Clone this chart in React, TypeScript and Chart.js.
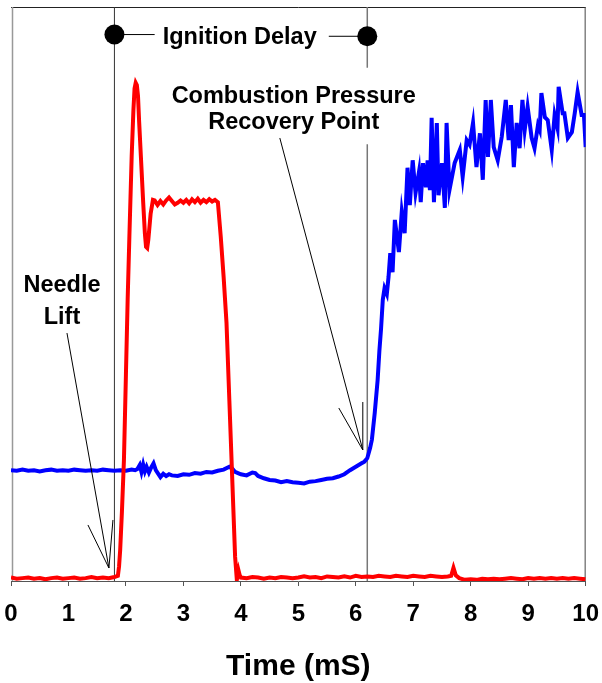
import React, { useEffect, useRef } from "react";
import { Chart, registerables } from "chart.js";

Chart.register(...registerables);

// ---- data (time in ms, signal level in % of plot height) ----
const timeTicks = [0, 1, 2, 3, 4, 5, 6, 7, 8, 9, 10];

const needleLift: [number, number][] = [
  [0, 0.6], [0.1, 0.4], [0.2, 0.5], [0.3, 0.6], [0.4, 0.4], [0.5, 0.5], [0.6, 0.3], [0.7, 0.5], [0.8, 0.6], [0.9, 0.4],
  [1.0, 0.5], [1.1, 0.6], [1.2, 0.4], [1.3, 0.5], [1.4, 0.7], [1.5, 0.5], [1.6, 0.6], [1.7, 0.5], [1.8, 0.7],
  [1.86, 0.9], [1.88, 2.5], [1.9, 5.4], [1.93, 12], [1.965, 21], [2.0, 36], [2.03, 49], [2.06, 60], [2.1, 74], [2.13, 82],
  [2.15, 85.8], [2.17, 86.8], [2.19, 86.4], [2.21, 84.5], [2.23, 80], [2.26, 74], [2.3, 66], [2.33, 60.5], [2.35, 58.2],
  [2.37, 58.0], [2.39, 59.5], [2.43, 64], [2.47, 66.4],
  [2.5, 66.3], [2.55, 65.5], [2.6, 66.2], [2.65, 65.6], [2.7, 66.3], [2.75, 66.8], [2.8, 66.2], [2.85, 65.6], [2.9, 65.9],
  [2.95, 66.3], [3.0, 65.9], [3.05, 66.4], [3.1, 65.8], [3.15, 66.5], [3.2, 66.0], [3.25, 66.6], [3.3, 65.9], [3.35, 66.4],
  [3.4, 66.0], [3.45, 66.5], [3.5, 66.1], [3.55, 66.4], [3.6, 66.0],
  [3.65, 60], [3.7, 53], [3.75, 45], [3.8, 31.4], [3.85, 17.8], [3.9, 4.2], [3.93, 0.2], [3.96, 1.8], [3.98, 1.0], [4.0, 0.6],
  [4.1, 0.5], [4.2, 0.7], [4.3, 0.6], [4.4, 0.4], [4.5, 0.6], [4.6, 0.5], [4.7, 0.7], [4.8, 0.6], [4.9, 0.5], [5.0, 0.6],
  [5.1, 0.8], [5.2, 0.6], [5.3, 0.7], [5.4, 0.5], [5.5, 0.8], [5.6, 0.7], [5.7, 0.6], [5.8, 0.8], [5.9, 0.6], [6.0, 0.9],
  [6.1, 0.7], [6.2, 0.8], [6.3, 0.7], [6.4, 0.9], [6.5, 0.8], [6.6, 0.7], [6.7, 0.9], [6.8, 0.8], [6.9, 0.7], [7.0, 0.9],
  [7.1, 0.8], [7.2, 0.7], [7.3, 0.9], [7.4, 0.8], [7.5, 0.7], [7.6, 0.8],
  [7.66, 0.9], [7.7, 2.3], [7.74, 1.0],
  [7.8, 0.5], [7.9, 0.2], [8.0, 0.3], [8.1, 0.2], [8.2, 0.4], [8.3, 0.3], [8.4, 0.4], [8.5, 0.3], [8.6, 0.4], [8.7, 0.5],
  [8.8, 0.4], [8.9, 0.3], [9.0, 0.5], [9.1, 0.4], [9.2, 0.5], [9.3, 0.4], [9.4, 0.5], [9.5, 0.4], [9.6, 0.5], [9.7, 0.4],
  [9.8, 0.5], [9.9, 0.4], [10.0, 0.3],
];

const cylinderPressure: [number, number][] = [
  [0, 19.3], [0.1, 19.2], [0.2, 19.4], [0.3, 19.2], [0.4, 19.3], [0.5, 19.1], [0.6, 19.3], [0.7, 19.4], [0.8, 19.2], [0.9, 19.3],
  [1.0, 19.2], [1.1, 19.4], [1.2, 19.3], [1.3, 19.2], [1.4, 19.3], [1.5, 19.2], [1.6, 19.4], [1.7, 19.3], [1.8, 19.2], [1.9, 19.3],
  [2.0, 19.2], [2.1, 19.4], [2.16, 19.3], [2.2, 19.5], [2.24, 20.2], [2.27, 19.0], [2.3, 20.3], [2.33, 19.1], [2.36, 19.9],
  [2.4, 18.9], [2.44, 19.8], [2.48, 20.5], [2.52, 19.3], [2.56, 18.7], [2.6, 18.1], [2.65, 18.7], [2.7, 18.3], [2.75, 18.6],
  [2.8, 18.4], [2.9, 18.3], [3.0, 18.6], [3.1, 18.5], [3.2, 18.8], [3.3, 18.7], [3.4, 19.0], [3.5, 18.9], [3.6, 19.2],
  [3.7, 19.4], [3.8, 19.9], [3.85, 19.6], [3.9, 19.0], [3.95, 18.8], [4.0, 18.6], [4.1, 18.4], [4.2, 18.9], [4.25, 18.8],
  [4.3, 18.3], [4.4, 17.9], [4.5, 17.6], [4.6, 17.5], [4.7, 17.2], [4.8, 17.4], [4.9, 17.2], [5.0, 17.1], [5.1, 17.0],
  [5.2, 17.3], [5.3, 17.4], [5.4, 17.6], [5.5, 17.8], [5.6, 17.9], [5.7, 18.2], [5.8, 18.6], [5.9, 19.3], [6.0, 19.9],
  [6.1, 20.5], [6.15, 20.8], [6.2, 21.4], [6.25, 23.2], [6.28, 24.6], [6.33, 29.3], [6.38, 35], [6.41, 40], [6.44, 44],
  [6.47, 49], [6.5, 51], [6.54, 50], [6.57, 53], [6.6, 57.1], [6.64, 53.8], [6.68, 62.9], [6.75, 57.3], [6.8, 64.3],
  [6.85, 60.6], [6.9, 72], [6.94, 65.5], [6.99, 73.3], [7.04, 67.6], [7.1, 71.3], [7.13, 66], [7.17, 72.8], [7.22, 68.6],
  [7.25, 73.3], [7.29, 68.1], [7.32, 80.7], [7.36, 66], [7.41, 79.8], [7.44, 67.2], [7.5, 72.8], [7.55, 65], [7.58, 79.8],
  [7.63, 68.1], [7.72, 72.8], [7.81, 75.1], [7.86, 70.4], [7.93, 76.8], [7.98, 76], [8.04, 79.8], [8.1, 72.1], [8.16, 78],
  [8.21, 69.9], [8.26, 83.8], [8.3, 73.9], [8.35, 83.8], [8.4, 75.6], [8.47, 73.3], [8.54, 77.4], [8.61, 83.8], [8.66, 76.8],
  [8.7, 82.9], [8.75, 72.1], [8.8, 79.8], [8.85, 75.4], [8.9, 83.8], [8.94, 78.6], [8.99, 82.6], [9.06, 77.2], [9.11, 75.4],
  [9.17, 79.4], [9.2, 78.6], [9.23, 85], [9.29, 80.8], [9.34, 80.3], [9.41, 75.1], [9.46, 81.2], [9.51, 78.9], [9.53, 86.1],
  [9.6, 81.5], [9.63, 81.5], [9.69, 77.2], [9.76, 78.2], [9.81, 81.5], [9.86, 85.2], [9.93, 81.2], [9.97, 81.2], [10.0, 75.6],
];

// event times and marker levels
const ignitionStart = 1.8;
const recoveryPoint = 6.2;
const markerLevels = [95.2, 94.9];
const delayLabelEnds = [2.5, 5.53];
const recoveryLineGap = [76.1, 89.4];

// arrows: [tail, tip, barb1, barb2]
const needleArrow: [number, number][] = [[0.974, 43.2], [1.704, 2.26], [1.339, 9.76], [1.774, 10.63]];
const recoveryArrow: [number, number][] = [[4.678, 77.18], [6.122, 22.82], [5.704, 30.14], [6.122, 31.18]];

// annotation texts at [x, baseline y]
const annotationTexts: { text: string; x: number; y: number }[] = [
  { text: "Ignition Delay", x: 3.98, y: 93.55 },
  { text: "Combustion Pressure", x: 4.92, y: 83.28 },
  { text: "Recovery Point", x: 4.92, y: 78.75 },
  { text: "Needle", x: 0.887, y: 50.35 },
  { text: "Lift", x: 0.887, y: 44.77 },
];

const FONT = "'Liberation Sans', Arial, Helvetica, sans-serif";

const toXY = (arr: [number, number][]) => arr.map(([x, y]) => ({ x, y }));

export default function App() {
  const canvasRef = useRef<HTMLCanvasElement | null>(null);

  useEffect(() => {
    document.body.style.margin = "0";
    document.body.style.overflow = "hidden";
    const canvas = canvasRef.current;
    if (!canvas) return;

    const framePlugin = {
      id: "frame",
      beforeDatasetsDraw(chart: any) {
        const { ctx, chartArea } = chart;
        const { left, right, top, bottom } = chartArea;
        ctx.save();
        ctx.lineWidth = 1;
        ctx.strokeStyle = "#222";
        ctx.beginPath();
        ctx.moveTo(left, top + 0.5);
        ctx.lineTo(right, top + 0.5);
        ctx.stroke();
        ctx.strokeStyle = "#444";
        ctx.beginPath();
        ctx.moveTo(right - 0.5, top);
        ctx.lineTo(right - 0.5, bottom);
        ctx.stroke();
        ctx.strokeStyle = "#999";
        ctx.lineWidth = 1.5;
        ctx.beginPath();
        ctx.moveTo(left + 1.5, top);
        ctx.lineTo(left + 1.5, bottom);
        ctx.stroke();
        ctx.restore();
      },
    };

    const textPlugin = {
      id: "annotText",
      afterDatasetsDraw(chart: any) {
        const { ctx, scales } = chart;
        ctx.save();
        ctx.fillStyle = "#000";
        ctx.font = `bold 23.5px ${FONT}`;
        ctx.textAlign = "center";
        ctx.textBaseline = "alphabetic";
        annotationTexts.forEach((a) => {
          ctx.fillText(a.text, scales.x.getPixelForValue(a.x), scales.y.getPixelForValue(a.y));
        });
        ctx.restore();
      },
    };

    const thin = (data: { x: number; y: number }[], color: string, width = 1) => ({
      type: "line" as const,
      data,
      borderColor: color,
      borderWidth: width,
      pointRadius: 0,
      tension: 0,
      fill: false,
    });

    const chart = new Chart(canvas, {
      type: "line",
      data: {
        datasets: [
          {
            data: [
              { x: ignitionStart, y: markerLevels[0] },
              { x: recoveryPoint, y: markerLevels[1] },
            ],
            showLine: false,
            pointRadius: 10,
            pointBackgroundColor: "#000",
            pointBorderColor: "#000",
            borderWidth: 0,
          },
          thin(toXY([needleArrow[0], needleArrow[1]]), "#000"),
          thin(toXY([needleArrow[2], needleArrow[1], needleArrow[3]]), "#000"),
          thin(toXY([recoveryArrow[0], recoveryArrow[1]]), "#000"),
          thin(toXY([recoveryArrow[2], recoveryArrow[1], recoveryArrow[3]]), "#000"),
          {
            data: toXY(needleLift),
            borderColor: "#ff0000",
            borderWidth: 4,
            pointRadius: 0,
            tension: 0,
            fill: false,
          },
          {
            data: toXY(cylinderPressure),
            borderColor: "#0000ff",
            borderWidth: 4,
            pointRadius: 0,
            tension: 0,
            fill: false,
          },
          thin([{ x: ignitionStart, y: 0 }, { x: ignitionStart, y: 100 }], "#333"),
          thin([{ x: recoveryPoint, y: 0 }, { x: recoveryPoint, y: recoveryLineGap[0] }], "#777", 1.5),
          thin([{ x: recoveryPoint, y: recoveryLineGap[1] }, { x: recoveryPoint, y: 100 }], "#777", 1.5),
          thin([{ x: ignitionStart, y: markerLevels[0] }, { x: delayLabelEnds[0], y: markerLevels[0] }], "#000"),
          thin([{ x: delayLabelEnds[1], y: markerLevels[1] }, { x: recoveryPoint, y: markerLevels[1] }], "#000"),
        ] as any,
      },
      options: {
        responsive: false,
        animation: false,
        events: [],
        parsing: true,
        layout: { autoPadding: false, padding: { left: 11, right: 16, top: 7, bottom: 0 } },
        plugins: {
          legend: { display: false },
          tooltip: { enabled: false },
          title: { display: false },
        },
        scales: {
          x: {
            type: "linear",
            min: timeTicks[0],
            max: timeTicks[timeTicks.length - 1],
            afterBuildTicks: (scale: any) => {
              scale.ticks = timeTicks.map((v) => ({ value: v }));
            },
            ticks: {
              color: "#000",
              font: { family: FONT, size: 24, weight: "bold", lineHeight: 2.15 },
              padding: 3,
              maxRotation: 0,
              autoSkip: false,
              callback: (v: any) => String(v),
            },
            grid: {
              drawOnChartArea: false,
              drawTicks: true,
              tickLength: 5,
              color: "#555",
              lineWidth: 1,
            },
            border: { display: true, color: "#555", width: 1 },
            title: {
              display: true,
              text: "Time (mS)",
              color: "#000",
              font: { family: FONT, size: 30, weight: "bold", lineHeight: 1.1 },
              padding: { top: 6.4, bottom: 0 },
            },
          },
          y: {
            type: "linear",
            display: false,
            min: 0,
            max: 100,
          },
        },
      } as any,
      plugins: [framePlugin, textPlugin],
    });

    return () => chart.destroy();
  }, []);

  return (
    <div style={{ position: "absolute", left: 0, top: 0, width: 602, height: 683, background: "#fff" }}>
      <canvas ref={canvasRef} width={602} height={683} style={{ display: "block", width: 602, height: 683 }} />
    </div>
  );
}
